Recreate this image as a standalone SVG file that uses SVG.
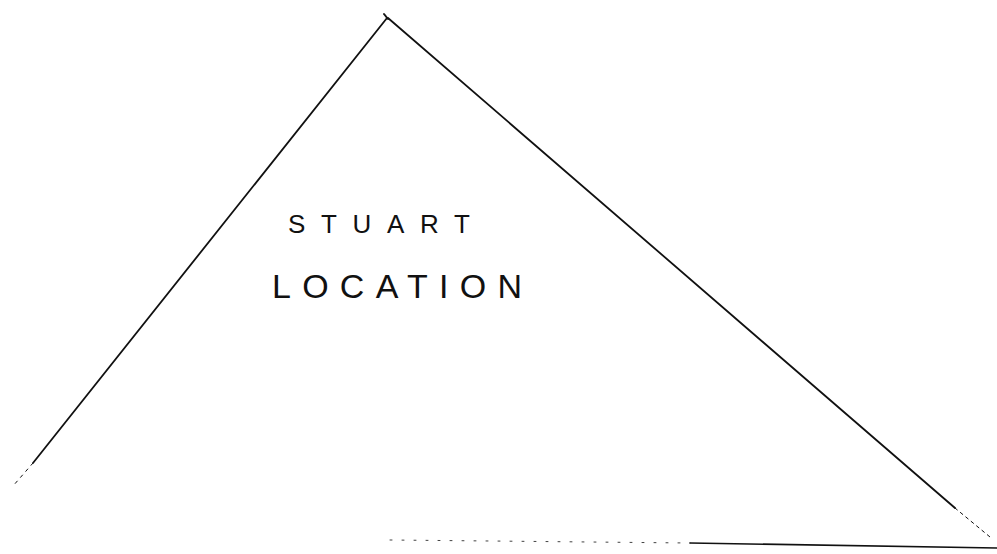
<svg xmlns="http://www.w3.org/2000/svg" width="997" height="554" viewBox="0 0 997 554">
<style>
.edge{fill:none;stroke:#111;stroke-linecap:round}
.label{font-family:"Liberation Sans",Arial,sans-serif;fill:#111;font-weight:normal}
</style>
<rect width="997" height="554" fill="#fff"/>
<g id="connectors">
<line class="edge" x1="387" y1="18" x2="33" y2="463" stroke-width="1.8"/>
<line class="edge" x1="33" y1="463" x2="13" y2="486" stroke-width="1" stroke="#777" stroke-dasharray="3 5"/>
<line class="edge" x1="384" y1="14" x2="388" y2="19" stroke-width="2"/>
<line class="edge" x1="388" y1="18" x2="955" y2="508" stroke-width="1.8"/>
<line class="edge" x1="955" y1="508" x2="990" y2="537" stroke-width="1" stroke="#666" stroke-dasharray="3 4"/>
<line class="edge" x1="390" y1="540" x2="690" y2="543" stroke-width="0.8" stroke="#999" stroke-dasharray="2 10"/>
<line class="edge" x1="690" y1="543" x2="997" y2="548" stroke-width="1.6" stroke="#333"/>
</g>
<g id="stuart-location">
<text class="label" x="288" y="233" font-size="26" textLength="182" lengthAdjust="spacing">STUART</text>
<text class="label" x="272" y="298" font-size="34" textLength="250" lengthAdjust="spacing">LOCATION</text>
</g>
</svg>
